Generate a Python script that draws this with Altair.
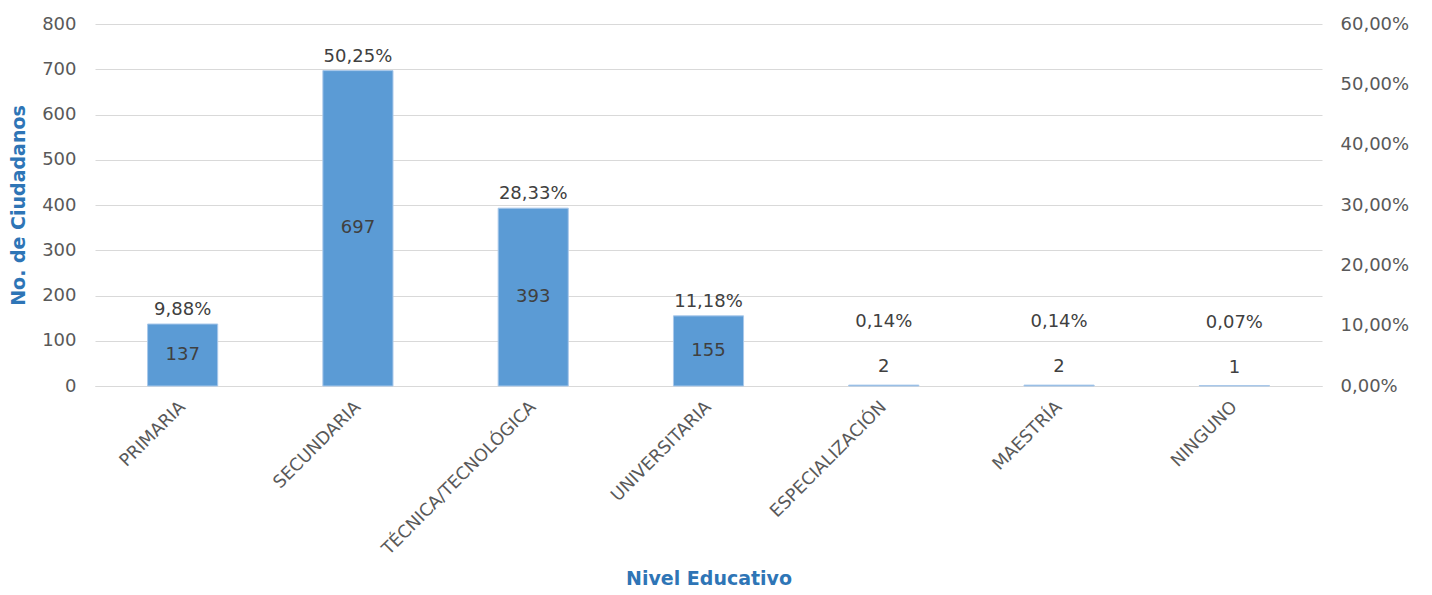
import altair as alt
import pandas as pd

categorias = ["PRIMARIA", "SECUNDARIA", "TÉCNICA/TECNOLÓGICA", "UNIVERSITARIA",
              "ESPECIALIZACIÓN", "MAESTRÍA", "NINGUNO"]
ciudadanos = [137, 697, 393, 155, 2, 2, 1]
porcentajes = [9.88, 50.25, 28.33, 11.18, 0.14, 0.14, 0.07]

df = pd.DataFrame({"cat": categorias, "n": ciudadanos, "pct": porcentajes})
df["pct_label"] = [f"{v:.2f}%".replace(".", ",") for v in porcentajes]
df["mid"] = df["n"] / 2

FONT = "DejaVu Sans"
BLUE = "#5B9BD5"
TXT = "#404040"
AX = "#595959"
TITLE_BLUE = "#2E75B6"
FS = 18

xenc = alt.X("cat:N", sort=categorias, scale=alt.Scale(paddingInner=0.6, paddingOuter=0.3),
             axis=alt.Axis(title="Nivel Educativo", labelAngle=-45, labelAlign="right",
                           labelBaseline="middle", labelPadding=18, labelFontSize=17.5,
                           labelLimit=400, labelColor=AX, labelFont=FONT, ticks=False,
                           domainColor="#D9D9D9",
                           titleFont=FONT, titleFontSize=19, titleColor=TITLE_BLUE,
                           titleFontWeight="bold", titleY=192, titleBaseline="middle"))
yscale = alt.Scale(domain=[0, 800])

base = alt.Chart(df)

bars = base.mark_bar(color=BLUE, stroke="#A9C8EA", strokeWidth=1).encode(
    x=xenc,
    y=alt.Y("n:Q", scale=yscale,
            axis=alt.Axis(title="No. de Ciudadanos", values=list(range(0, 801, 100)),
                          ticks=False, domain=False, labelPadding=19, labelFontSize=FS,
                          labelColor=AX, labelFont=FONT, gridColor="#D9D9D9",
                          titleFont=FONT, titleFontSize=19, titleColor=TITLE_BLUE,
                          titleFontWeight="bold", titleX=-77, titleY=181,
                          titleAngle=-90, titleBaseline="middle", titleAlign="center")),
)

cnt_big = base.transform_filter("datum.n >= 50").mark_text(
    font=FONT, fontSize=FS, color=TXT, baseline="middle").encode(
    x=alt.X("cat:N", sort=categorias), y=alt.Y("mid:Q", scale=yscale), text="n:Q")
cnt_small = base.transform_filter("datum.n < 50").mark_text(
    font=FONT, fontSize=FS, color=TXT, baseline="middle", dy=-18).encode(
    x=alt.X("cat:N", sort=categorias), y=alt.Y("n:Q", scale=yscale), text="n:Q")
pct_big = base.transform_filter("datum.n >= 50").mark_text(
    font=FONT, fontSize=FS, color=TXT, baseline="middle", dy=-14).encode(
    x=alt.X("cat:N", sort=categorias), y=alt.Y("n:Q", scale=yscale), text="pct_label:N")
pct_small = base.transform_filter("datum.n < 50").mark_text(
    font=FONT, fontSize=FS, color=TXT, baseline="middle", dy=-63).encode(
    x=alt.X("cat:N", sort=categorias), y=alt.Y("n:Q", scale=yscale), text="pct_label:N")

left = alt.layer(bars, cnt_big, cnt_small, pct_big, pct_small)

right = base.mark_point(opacity=0).encode(
    x=alt.X("cat:N", sort=categorias),
    y=alt.Y("pct:Q", scale=alt.Scale(domain=[0, 60]),
            axis=alt.Axis(orient="right", title=None, values=list(range(0, 61, 10)),
                          labelExpr="replace(format(datum.value, '.2f'), '.', ',') + '%'",
                          ticks=False, domain=False, grid=False, labelPadding=18,
                          labelFontSize=FS, labelColor=AX, labelFont=FONT)),
)

chart = alt.layer(left, right).resolve_scale(y="independent").properties(
    width=1227, height=362,
    autosize=alt.AutoSizeParams(type="none"),
    padding={"left": 87, "top": 16, "right": 100, "bottom": 201},
).configure(background="white").configure_view(strokeWidth=0, stroke="transparent")

chart.save("out.html", embed_options={"renderer": "svg", "actions": False})
